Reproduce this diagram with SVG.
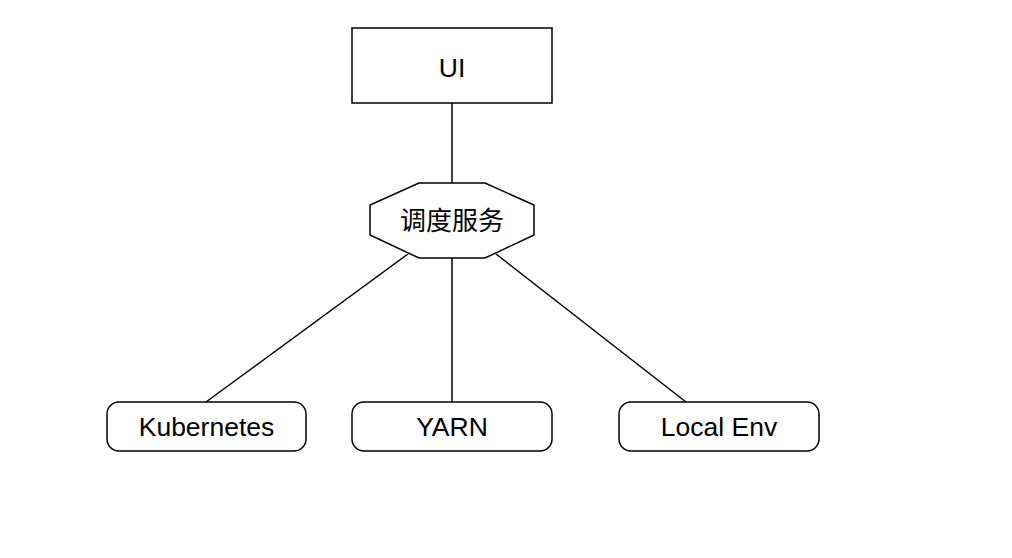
<svg xmlns="http://www.w3.org/2000/svg" width="1012" height="558" viewBox="0 0 1012 558">
<style>
.n{fill:#fff;stroke:#000;stroke-width:1.5}
.t{font-family:"Liberation Sans","Noto Sans CJK SC",sans-serif;font-size:26.5px;fill:#000;text-anchor:middle}
.z{font-size:26px}
.c{stroke:#000;stroke-width:1.5;fill:none}
</style>
<rect width="1012" height="558" fill="#fff"/>
<g id="connectors">
<line class="c" x1="452" y1="103" x2="452" y2="183"/>
<line class="c" x1="408" y1="254" x2="206" y2="402"/>
<line class="c" x1="452" y1="258" x2="452" y2="402"/>
<line class="c" x1="496" y1="254" x2="686" y2="402"/>
</g>
<g id="ui">
<rect class="n" x="352" y="28" width="200" height="75"/>
<text class="t" x="452" y="77">UI</text>
</g>
<g id="scheduler">
<polygon class="n" points="419,183 485,183 534,205 534,235 485,258 419,258 370,235 370,205"/>
<text class="t z" x="452" y="230">调度服务</text>
</g>
<g id="kubernetes">
<rect class="n" x="107" y="402" width="199" height="49" rx="12"/>
<text class="t" x="206.5" y="436">Kubernetes</text>
</g>
<g id="yarn">
<rect class="n" x="352" y="402" width="200" height="49" rx="12"/>
<text class="t" x="452" y="436">YARN</text>
</g>
<g id="local">
<rect class="n" x="619" y="402" width="200" height="49" rx="12"/>
<text class="t" x="719" y="436">Local Env</text>
</g>
</svg>
